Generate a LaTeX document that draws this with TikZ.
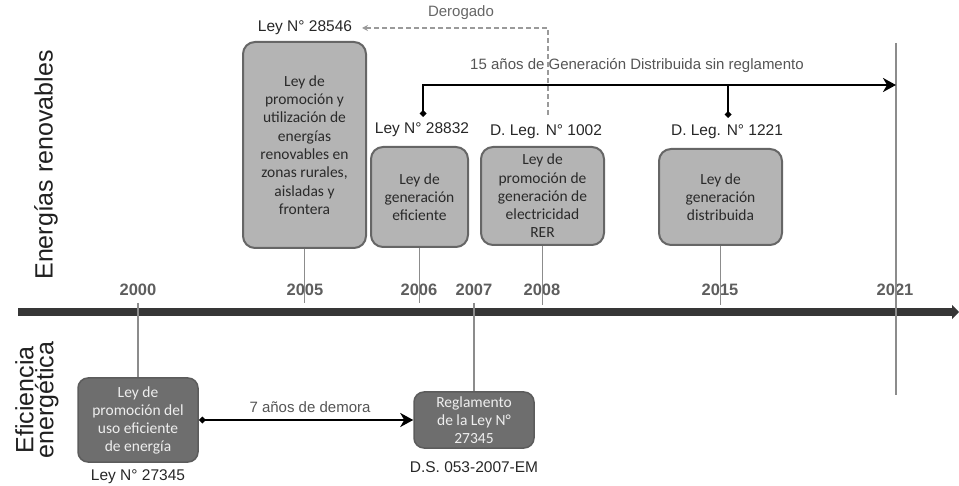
\documentclass[tikz,border=0pt]{standalone}
\usepackage{fontspec}
\setmainfont{Liberation Sans}
\newfontfamily\boxfont{Carlito}
\usetikzlibrary{arrows.meta}
\definecolor{topfill}{HTML}{B4B4B4}
\definecolor{topdraw}{HTML}{666666}
\definecolor{botfill}{HTML}{6E6E6E}
\definecolor{botdraw}{HTML}{5C5C5C}
\definecolor{bottext}{HTML}{EEEEEE}
\definecolor{toptext}{HTML}{2A2A2A}
\definecolor{yeargray}{HTML}{5E5E5E}
\definecolor{linegray}{HTML}{8C8C8C}
\definecolor{bar}{HTML}{363636}
\definecolor{dashgray}{HTML}{9A9A9A}
\definecolor{labgray}{HTML}{555555}
\begin{document}
\begin{tikzpicture}[x=1pt,y=-1pt,
  topbox/.style={draw=topdraw, fill=topfill, line width=2pt, rounded corners=12pt,
    inner sep=0pt, align=center, text=toptext,
    font=\boxfont\fontsize{15.5}{18.3}\selectfont},
  botbox/.style={draw=botdraw, fill=botfill, line width=1.5pt, rounded corners=10pt,
    inner sep=0pt, align=center, text=bottext,
    font=\boxfont\fontsize{15.5}{18}\selectfont},
  lawlabel/.style={font=\fontsize{15.5}{18}\selectfont, text=black!85, inner sep=1pt},
  yearlabel/.style={font=\bfseries\fontsize{16.5}{18}\selectfont, text=yeargray, inner sep=0pt},
  sidelabel/.style={font=\fontsize{25}{20}\selectfont, text=black!88, rotate=90, align=center, inner sep=0pt},
  note/.style={font=\fontsize{15}{18}\selectfont, text=labgray, inner sep=0pt},
  conn/.style={draw=linegray, line width=1.5pt},
  span/.style={draw=black, line width=2.5pt, {Diamond[length=7pt,width=7pt]}-{Stealth[length=13pt,width=14pt,inset=4pt]}},
]
\useasboundingbox (0,0) rectangle (959,486);

% side labels
\node[sidelabel] (ser) at (46,165) {Energías renovables};
\node[sidelabel] (see) at (37,400) {Eficiencia\\energética};

% time bar
\coordinate (barL) at (18,312);
\coordinate (barR) at (959,312);
\draw[bar, line width=8pt, -{Triangle[length=7pt,width=14pt]}] (barL) -- (barR);

% years
\node[yearlabel] (y2000) at (138,290) {2000};
\node[yearlabel] (y2005) at (305,290) {2005};
\node[yearlabel] (y2006) at (419,290) {2006};
\node[yearlabel] (y2007) at (474,290) {2007};
\node[yearlabel] (y2008) at (542,290) {2008};
\node[yearlabel] (y2015) at (720,290) {2015};
\node[yearlabel] (y2021) at (895,290) {2021};

% top boxes
\node[topbox, minimum width=123pt, minimum height=206pt] (b2005) at (304.5,145)
  {Ley de\\promoción y\\utilización de\\energías\\renovables en\\zonas rurales,\\aisladas y\\frontera};
\node[topbox, minimum width=97pt, minimum height=100pt] (b2006) at (419.5,197)
  {Ley de\\generación\\eficiente};
\node[topbox, minimum width=123pt, minimum height=98pt] (b1002) at (542.5,196)
  {Ley de\\promoción de\\generación de\\electricidad\\RER};
\node[topbox, minimum width=123pt, minimum height=96pt] (b1221) at (720.5,197)
  {Ley de\\generación\\distribuida};

% bottom boxes
\node[botbox, minimum width=120pt, minimum height=84pt] (b2000) at (138,420)
  {Ley de\\promoción del\\uso eficiente\\de energía};
\node[botbox, minimum width=120pt, minimum height=56pt] (b2007) at (474,420)
  {Reglamento\\de la Ley N°\\27345};

% law labels
\node[lawlabel] (l28546) at (305,28) {Ley N° 28546};
\node[lawlabel] (l28832) at (422,130) {Ley N° 28832};
\node[lawlabel] (l1002) at (546,132) {D. Leg. N° 1002};
\node[lawlabel] (l1221) at (727,132) {D. Leg. N° 1221};
\node[lawlabel] (l27345) at (138,477) {Ley N° 27345};
\node[lawlabel] (lds) at (474,467) {D.S. 053-2007-EM};

% tick connectors
\coordinate (t2005) at (304.5,303);
\coordinate (t2006) at (419.5,303);
\coordinate (t2008) at (542.5,305);
\coordinate (t2015) at (720.5,305);
\coordinate (t2000) at (138,303);
\coordinate (t2007) at (474,303);
\coordinate (t2021a) at (896,43);
\coordinate (t2021b) at (896,395);
\draw[conn] (b2005.south) -- (t2005);
\draw[conn] (b2006.south) -- (t2006);
\draw[conn] (b1002.south) -- (t2008);
\draw[conn] (b1221.south) -- (t2015);
\draw[conn] (t2000) -- (b2000.north);
\draw[conn] (t2007) -- (b2007.north);
\draw[conn, line width=1.2pt] (t2021a) -- (t2021b);

% derogado
\coordinate (dg) at (548,115);
\coordinate (dgend) at (362,28);
\draw[draw=dashgray, line width=1.2pt, dash pattern=on 5pt off 3pt, -{Stealth[length=6pt,width=6pt]}] (dg) |- (dgend);
\node[note, text=black!60] (derog) at (461,13) {Derogado};

% 15 years
\coordinate (d2006) at (423,117);
\coordinate (d2015) at (728,118);
\coordinate (e15) at (896,85);
\draw[span] (d2006) |- (e15);
\draw[draw=black, line width=2.5pt, {Diamond[length=7pt,width=7pt]}-] (d2015) -- (d2015 |- e15);
\node[note] (n15) at (637,66) {15 años de Generación Distribuida sin reglamento};

% 7 years
\draw[span] (b2000.east) -- (b2007.west);
\node[note] (n7) at (310,407) {7 años de demora};
\end{tikzpicture}
\end{document}
